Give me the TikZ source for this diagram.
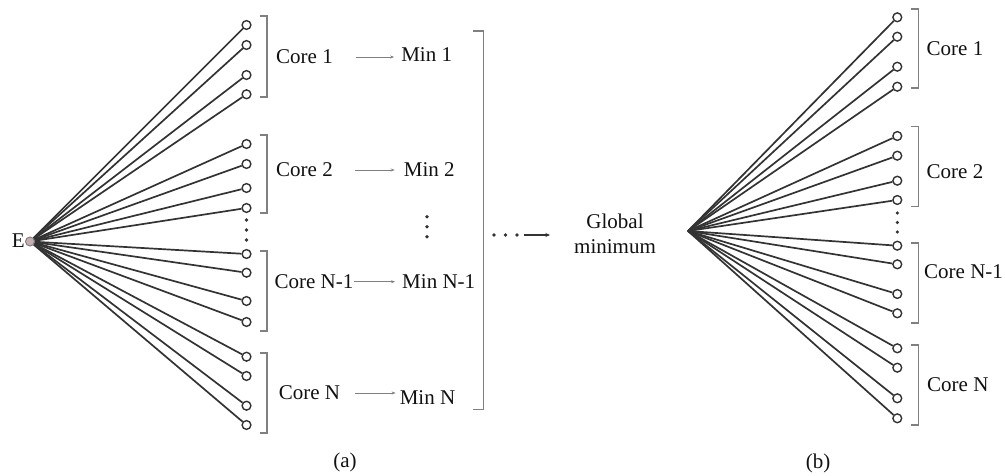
\documentclass[tikz,border=0pt]{standalone}
\usepackage{fontspec}
\setmainfont{Liberation Serif}
\usetikzlibrary{arrows.meta}
\definecolor{linec}{HTML}{333333}
\definecolor{brc}{HTML}{808080}
\definecolor{ec}{HTML}{C8AFAE}
\definecolor{txt}{HTML}{111111}
\begin{document}
\begin{tikzpicture}[x=1pt,y=-1pt,
  pinnode/.style={circle,draw=linec,fill=white,line width=1.4pt,minimum size=8.8pt,inner sep=0pt},
  enode/.style={circle,draw=brc,fill=ec,line width=1pt,minimum size=9pt,inner sep=0pt},
  ray/.style={draw=linec,line width=1.7pt},
  bracketline/.style={draw=brc,line width=1.6pt},
  lbl/.style={inner sep=0pt,text=txt,font=\fontsize{21}{25}\selectfont},
  smallarrow/.style={draw=brc,line width=0.8pt,-{Stealth[length=4pt,width=3pt]}},
  dotc/.style={fill=linec}]
\useasboundingbox (0,0) rectangle (1005,476);

% ---------------- panel (a) ----------------
\node[enode] (E) at (30,241.5) {};
\node[lbl,anchor=east] (Elab) at (25,241) {E};
\foreach \n/\y in {1/25,2/45,3/75,4/94.3,
                   5/144,6/164,7/188,8/208,
                   9/254,10/272.7,11/301,12/322,
                   13/356.7,14/376,15/405.7,16/425}{
  \node[pinnode] (a\n) at (246.5,\y) {};
  \draw[ray] (E) -- (a\n);
}
\foreach \y in {220,230,240}{\fill[dotc] (246.5,\y) circle (1.8pt);}

\draw[bracketline] (259.5,16) -- (266.7,16) -- (266.7,97) -- (259.5,97);
\draw[bracketline] (259.5,135) -- (266.7,135) -- (266.7,213) -- (259.5,213);
\draw[bracketline] (259.5,250.7) -- (266.7,250.7) -- (266.7,330.7) -- (259.5,330.7);
\draw[bracketline] (259.5,353) -- (266.7,353) -- (266.7,432.7) -- (259.5,432.7);

\node[lbl] (c1) at (304.5,57) {Core 1};
\node[lbl] (c2) at (304.5,170) {Core 2};
\node[lbl] (c3) at (314,281.7) {Core N-1};
\node[lbl] (c4) at (309.5,393) {Core N};

\node[lbl] (m1) at (426.7,55) {Min 1};
\node[lbl] (m2) at (429.3,170) {Min 2};
\node[lbl] (m3) at (438.7,281.7) {Min N-1};
\node[lbl] (m4) at (427.5,398) {Min N};

\draw[smallarrow,shorten <=23pt,shorten >=7pt] (c1.east) -- (c1.east -| m1.west);
\draw[smallarrow,shorten <=22pt,shorten >=9pt] (c2.east) -- (c2.east -| m2.west);
\draw[smallarrow,shorten <=0.5pt,shorten >=7pt] (c3.east) -- (c3.east -| m3.west);
\draw[smallarrow,shorten <=15pt,shorten >=4pt] (c4.east) -- (c4.east -| m4.west);

\foreach \y in {216.7,226.7,236.7}{\fill[dotc] (427,\y) circle (1.9pt);}

\draw[bracketline] (473,31) -- (483.3,31) -- (483.3,409.3) -- (473,409.3);

\foreach \x in {494,505.5,517}{\fill[dotc] (\x,235) circle (1.9pt);}
\coordinate (gs) at (524,235);
\node[lbl,align=center] (G) at (615,234) {Global\\minimum};
\draw[draw=linec,line width=1.1pt,-{Stealth[length=4.5pt,width=4pt]},shorten >=24pt] (gs) -- (G.west |- gs);

\node[lbl] (la) at (345,462) {(a)};

% ---------------- panel (b) ----------------
\coordinate (H) at (688,231);
\foreach \n/\y in {1/17.3,2/36.7,3/66.7,4/86.7,
                   5/136,6/155.7,7/180.7,8/200,
                   9/245.7,10/264.3,11/294,12/313.3,
                   13/348.3,14/367.7,15/398.3,16/418.3}{
  \node[pinnode] (b\n) at (897.3,\y) {};
  \draw[ray] (H) -- (b\n);
}
\foreach \y in {213,222.5,232}{\fill[dotc] (897.3,\y) circle (1.8pt);}

\draw[bracketline] (910.5,9) -- (918.3,9) -- (918.3,88.3) -- (910.5,88.3);
\draw[bracketline] (910.5,126.7) -- (918.3,126.7) -- (918.3,206.7) -- (910.5,206.7);
\draw[bracketline] (910.5,243.3) -- (918.3,243.3) -- (918.3,322.7) -- (910.5,322.7);
\draw[bracketline] (910.5,345) -- (918.3,345) -- (918.3,425) -- (910.5,425);

\node[lbl,anchor=west] (d1) at (926.5,48.3) {Core 1};
\node[lbl,anchor=west] (d2) at (926.5,171.7) {Core 2};
\node[lbl,anchor=west] (d3) at (924,271.7) {Core N-1};
\node[lbl,anchor=west] (d4) at (927,385) {Core N};

\node[lbl] (lb) at (818,463) {(b)};
\end{tikzpicture}
\end{document}
